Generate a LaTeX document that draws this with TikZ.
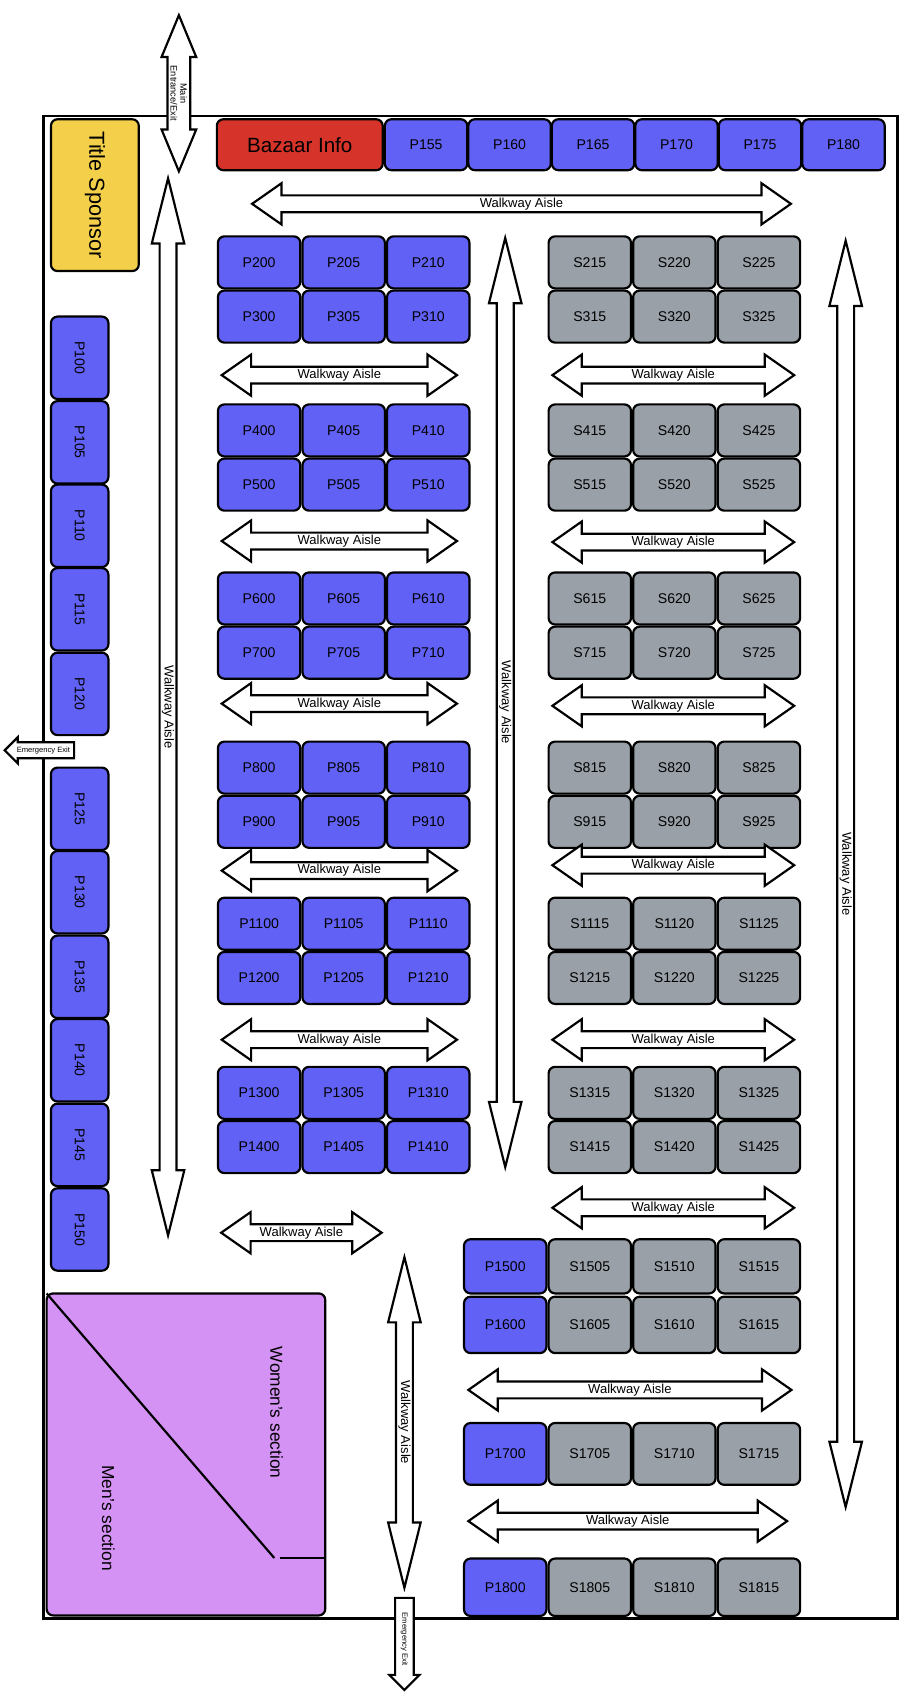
\documentclass[tikz,border=0pt]{standalone}
\usepackage{fontspec}
\setmainfont{Liberation Sans}
\usetikzlibrary{shapes.arrows}
\definecolor{boothblue}{HTML}{6161F5}
\definecolor{boothgrey}{HTML}{99A0A8}
\definecolor{infored}{HTML}{D6342A}
\definecolor{sponsoryellow}{HTML}{F4D04A}
\definecolor{sectionpurple}{HTML}{D592F5}
\tikzset{booth/.style={rectangle,draw=black,line width=2pt,rounded corners=6pt,inner sep=0pt,outer sep=0pt,font=\fontsize{13}{13}\selectfont},
  pbooth/.style={booth,fill=boothblue,minimum width=76pt,minimum height=48pt},
  sbooth/.style={booth,fill=boothgrey,minimum width=76pt,minimum height=48pt},
  sidebooth/.style={booth,fill=boothblue,minimum width=76pt,minimum height=53pt,rotate=-90},
  aisle/.style={double arrow,draw=black,line width=2pt,fill=white,inner xsep=0pt,inner ysep=1pt,
    double arrow head extend=11pt,double arrow tip angle=70,font=\fontsize{12}{12}\selectfont},
  vaisle/.style={aisle,rotate=-90,double arrow tip angle=28,double arrow head extend=7pt},
  exitarrow/.style={single arrow,draw=black,line width=2pt,fill=white,inner xsep=0pt,inner ysep=2pt,
    single arrow head extend=4pt,font=\fontsize{7}{7}\selectfont}}
\begin{document}
\begin{tikzpicture}[x=1pt,y=-1pt]
  \useasboundingbox (0,0) rectangle (833,1568);
  % hall walls
  \draw[line width=2.5pt] (40,107) rectangle (828,1493);
  \node[booth,fill=sponsoryellow,minimum width=140pt,minimum height=81pt,rotate=-90,font=\fontsize{20}{20}\selectfont] (sponsor) at (87.5,180) {Title Sponsor};
  \node[booth,fill=infored,minimum width=153pt,minimum height=47pt,font=\fontsize{19}{19}\selectfont] (info) at (276.5,133.5) {Bazaar Info};
  \foreach \n [count=\i from 0] in {155,160,165,170,175,180}
    \node[pbooth,minimum height=47pt] (p\n) at (393+77*\i,133.5) {P\n};
  % left column
  \foreach \n/\y in {100/330,105/408,110/485,115/562,120/640,125/746,130/823,135/901,140/978,145/1056,150/1134}
    \node[sidebooth] (p\n) at (73.5,\y) {P\n};
  % blocks
  \foreach \t/\a/\b in {218/2/3,373/4/5,528/6/7,684/8/9,828/11/12,984/13/14} {
    \node[pbooth] (p\a00) at (239,\t+24) {P\a00};
    \node[pbooth] (p\a05) at (317,\t+24) {P\a05};
    \node[pbooth] (p\a10) at (395,\t+24) {P\a10};
    \node[pbooth] (p\b00) at (239,\t+74) {P\b00};
    \node[pbooth] (p\b05) at (317,\t+74) {P\b05};
    \node[pbooth] (p\b10) at (395,\t+74) {P\b10};
    \node[sbooth] (s\a15) at (544,\t+24) {S\a15};
    \node[sbooth] (s\a20) at (622,\t+24) {S\a20};
    \node[sbooth] (s\a25) at (700,\t+24) {S\a25};
    \node[sbooth] (s\b15) at (544,\t+74) {S\b15};
    \node[sbooth] (s\b20) at (622,\t+74) {S\b20};
    \node[sbooth] (s\b25) at (700,\t+74) {S\b25};
  }
  \foreach \r/\y/\h in {15/1168/50,16/1222/52,17/1341/57,18/1464/53} {
    \node[pbooth,minimum height=\h pt] (p\r00) at (466,\y) {P\r00};
    \node[sbooth,minimum height=\h pt] (s\r05) at (544,\y) {S\r05};
    \node[sbooth,minimum height=\h pt] (s\r10) at (622,\y) {S\r10};
    \node[sbooth,minimum height=\h pt] (s\r15) at (700,\y) {S\r15};
  }
  % horizontal aisles
  \foreach \x/\y/\l [count=\i] in {481/188/497,313/346/217,313/499/217,313/649/217,313/803/217,313/959/217,278/1137/148,
      621/346/223,621/500/223,621/651/223,621/798/223,621/959/223,621/1114/223,581/1282/298,579/1403/294}
    \node[aisle,minimum height=\l pt,minimum width=38pt] (h\i) at (\x,\y) {Walkway Aisle};
  % vertical aisles
  \node[vaisle,minimum height=975pt,minimum width=30pt] (vleft) at (155,652) {Walkway Aisle};
  \node[vaisle,minimum height=857pt,minimum width=30pt] (vmid) at (466,648) {Walkway Aisle};
  \node[vaisle,minimum height=1168pt,minimum width=30pt] (vright) at (780,806) {Walkway Aisle};
  \node[vaisle,minimum height=305pt,minimum width=30pt] (vbottom) at (373,1312) {Walkway Aisle};
  \node[vaisle,minimum height=144pt,minimum width=32pt,double arrow head extend=5pt,double arrow tip angle=45,
    font=\fontsize{8.5}{9}\selectfont,align=center] (entrance) at (165,86) {Main\\Entrance/Exit};
  % exits
  \node[exitarrow,shape border rotate=180,minimum height=64pt,minimum width=24pt] (exitleft) at (40,692) {Emergency Exit};
  \node[exitarrow,rotate=-90,minimum height=85pt,minimum width=28pt] (exitbottom) at (373,1512) {Emergency Exit};
  % clothing section
  \node[booth,fill=sectionpurple,minimum width=257pt,minimum height=297pt,anchor=north west] (section) at (43,1193) {};
  \draw[line width=2pt] (section.north west) -- (253,1437);
  \draw[line width=2pt] (258,1437) -- (section.east |- 0,1437);
  \node[rotate=-90,font=\fontsize{16}{16}\selectfont] (women) at (255,1303) {Women's section};
  \node[rotate=-90,font=\fontsize{16}{16}\selectfont] (men) at (100,1400) {Men's section};
\end{tikzpicture}
\end{document}
